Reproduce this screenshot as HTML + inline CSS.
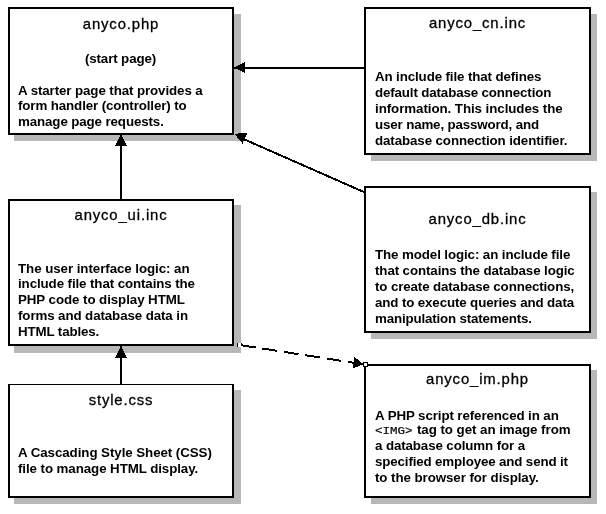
<!DOCTYPE html>
<html><head><meta charset="utf-8"><title>anyco</title>
<style>
html,body{margin:0;padding:0;background:#fff;}
body{width:606px;height:514px;position:relative;overflow:hidden;font-family:"Liberation Sans",sans-serif;color:#000;}
.b{position:absolute;box-sizing:border-box;border:2px solid #000;background:#fff;}
.s{position:absolute;background:#b7b7b7;}
.t{position:absolute;font-size:14.9px;line-height:20px;height:20px;white-space:pre;letter-spacing:0.85px;transform:translateX(-50%) scaleY(0.96);transform-origin:50% 15px;-webkit-text-stroke:0.3px #000;}
.p{position:absolute;font-size:13.33px;line-height:16px;height:16px;font-weight:bold;white-space:pre;letter-spacing:-0.07px;}
.m{font-family:"Liberation Mono",monospace;font-weight:normal;font-size:12.5px;letter-spacing:0;display:inline-block;line-height:16px;transform:scaleY(0.9);transform-origin:0 11px;margin-right:0.8px;-webkit-text-stroke:0.2px #000;}
svg{position:absolute;left:0;top:0;}
#tx{position:absolute;left:0;top:0;width:606px;height:514px;will-change:transform;}
</style></head><body>

<div class='s' style='left:14px;top:14px;width:227px;height:127px'></div>
<div class='s' style='left:14px;top:205px;width:227px;height:148px'></div>
<div class='s' style='left:371px;top:14px;width:226px;height:147px'></div>
<div class='s' style='left:371px;top:192px;width:226px;height:147px'></div>
<div class='s' style='left:371px;top:370px;width:226px;height:134px'></div>
<div class='s' style='left:14px;top:390px;width:227px;height:114px'></div>
<div class='b' style='left:8px;top:7px;width:226px;height:128px'></div>
<div class='b' style='left:8px;top:199px;width:226px;height:147px'></div>
<div class='b' style='left:364px;top:7px;width:227px;height:148px'></div>
<div class='b' style='left:364px;top:186px;width:227px;height:147px'></div>
<div class='b' style='left:364px;top:364px;width:227px;height:134px'></div>
<div class='b' style='left:8px;top:384px;width:226px;height:114px;border-top-width:1px'></div>
<div id='tx'>
<div class='t' style='left:121px;top:13.9px'>anyco.php</div>
<div class='t' style='left:121px;top:204.9px'>anyco_ui.inc</div>
<div class='t' style='left:477.5px;top:12.9px'>anyco_cn.inc</div>
<div class='t' style='left:477.5px;top:208.9px'>anyco_db.inc</div>
<div class='t' style='left:477.5px;top:368.9px'>anyco_im.php</div>
<div class='t' style='left:121px;top:389.9px'>style.css</div>
<div class='p' style='left:120.5px;top:51px;letter-spacing:-0.12px;transform:translateX(-50%)'>(start page)</div>
<div class='p' style='left:18px;top:83px;letter-spacing:-0.101px'>A starter page that provides a</div>
<div class='p' style='left:18px;top:98px;letter-spacing:-0.114px'>form handler (controller) to</div>
<div class='p' style='left:18px;top:114px;letter-spacing:-0.115px'>manage page requests.</div>
<div class='p' style='left:18px;top:261px;letter-spacing:-0.063px'>The user interface logic: an</div>
<div class='p' style='left:18px;top:276px;letter-spacing:-0.101px'>include file that contains the</div>
<div class='p' style='left:18px;top:292px;letter-spacing:-0.074px'>PHP code to display HTML</div>
<div class='p' style='left:18px;top:308px;letter-spacing:-0.102px'>forms and database data in</div>
<div class='p' style='left:18px;top:324px;letter-spacing:-0.125px'>HTML tables.</div>
<div class='p' style='left:375px;top:69px;letter-spacing:-0.118px'>An include file that defines</div>
<div class='p' style='left:375px;top:85px;letter-spacing:-0.139px'>default database connection</div>
<div class='p' style='left:375px;top:101px;letter-spacing:-0.067px'>information. This includes the</div>
<div class='p' style='left:375px;top:117px;letter-spacing:-0.144px'>user name, password, and</div>
<div class='p' style='left:375px;top:133px;letter-spacing:-0.103px'>database connection identifier.</div>
<div class='p' style='left:375px;top:247px;letter-spacing:-0.102px'>The model logic: an include file</div>
<div class='p' style='left:375px;top:263px;letter-spacing:-0.102px'>that contains the database logic</div>
<div class='p' style='left:375px;top:279px;letter-spacing:-0.127px'>to create database connections,</div>
<div class='p' style='left:375px;top:295px;letter-spacing:-0.127px'>and to execute queries and data</div>
<div class='p' style='left:375px;top:311px;letter-spacing:-0.166px'>manipulation statements.</div>
<div class='p' style='left:375px;top:408px;letter-spacing:-0.102px'>A PHP script referenced in an</div>
<div class='p' style='left:375px;top:422px;letter-spacing:-0.05px'><span class='m'>&lt;IMG&gt;</span> tag to get an image from</div>
<div class='p' style='left:375px;top:438px;letter-spacing:-0.115px'>a database column for a</div>
<div class='p' style='left:375px;top:454px;letter-spacing:-0.139px'>specified employee and send it</div>
<div class='p' style='left:375px;top:470px;letter-spacing:-0.074px'>to the browser for display.</div>
<div class='p' style='left:18px;top:445px;letter-spacing:-0.07px'>A Cascading Style Sheet (CSS)</div>
<div class='p' style='left:18px;top:461px;letter-spacing:-0.081px'>file to manage HTML display.</div>
</div>
<svg width='606' height='514' viewBox='0 0 606 514' shape-rendering='crispEdges'>
<rect x='234' y='67' width='130' height='2' fill='#000'/>
<polygon points='234.0,67.5 245.0,73.0 245.0,62.0' fill='#000'/>
<line x1='240' y1='137.5' x2='365' y2='192.5' stroke='#000' stroke-width='2'/>
<polygon points='234.3,133.7 242.5,143.7 247.2,133.0' fill='#000'/>
<rect x='120' y='135' width='2' height='64' fill='#000'/>
<polygon points='121.0,134.5 115.0,146.0 127.0,146.0' fill='#000'/>
<rect x='120' y='346' width='2' height='38' fill='#000'/>
<polygon points='121.0,345.5 115.0,358.0 127.0,358.0' fill='#000'/>
<line x1='241' y1='345.2' x2='356' y2='363.1' stroke='#000' stroke-width='2' stroke-dasharray='14.8,6.9'/>
<polygon points='363.5,364.3 354.5,357.0 352.7,368.6' fill='#000'/>
<rect x='363.5' y='362.5' width='4' height='4' fill='#fff' stroke='#000' stroke-width='1'/>
<rect x='238' y='343' width='3' height='4' fill='#fff'/>
<rect x='237' y='343' width='1' height='4' fill='#000'/>
<rect x='241' y='343' width='1' height='3' fill='#000'/>
</svg>
</body></html>
